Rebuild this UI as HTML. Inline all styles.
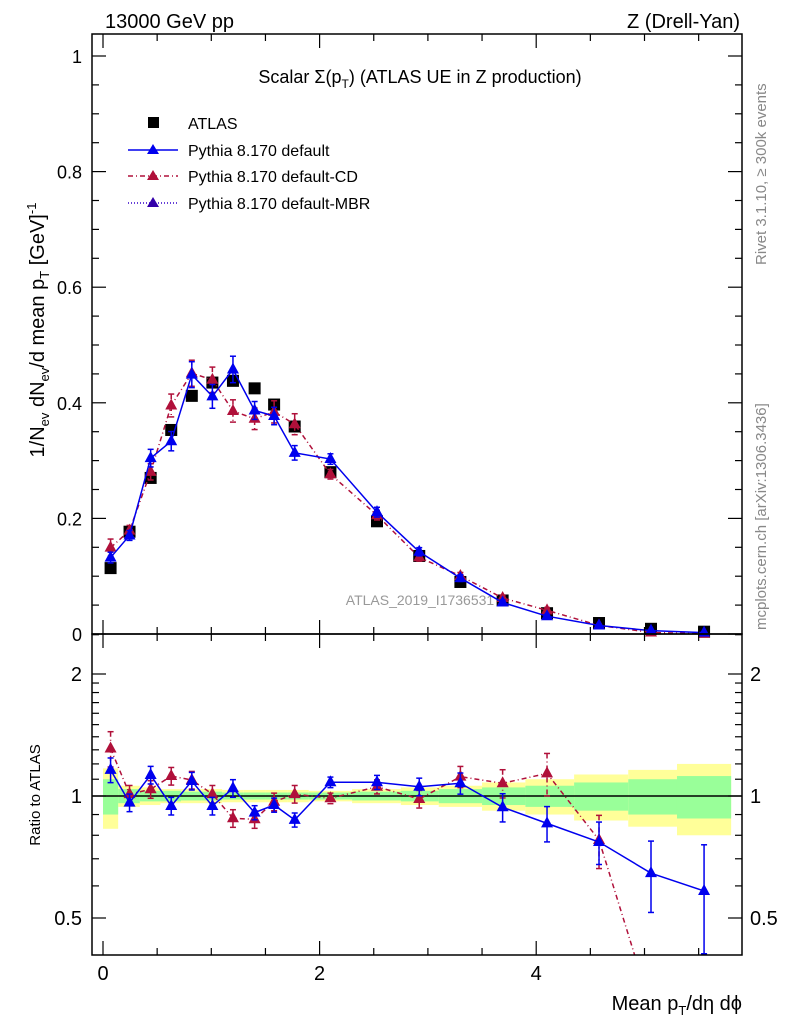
<!DOCTYPE html>
<html><head><meta charset="utf-8"><style>
html,body{margin:0;background:#fff;overflow:hidden;width:786px;height:1024px;}
svg{display:block;font-family:"Liberation Sans",sans-serif;}
</style></head><body>
<svg id="c" width="786" height="1024" viewBox="0 0 786 1024">
<text x="105" y="28" font-size="20">13000 GeV pp</text>
<text x="740" y="28" font-size="20" text-anchor="end">Z (Drell-Yan)</text>
<text x="420" y="83" font-size="18" text-anchor="middle">Scalar Σ(p<tspan font-size="12" dy="5">T</tspan><tspan dy="-5">) (ATLAS UE in Z production)</tspan></text>
<text x="420" y="605" font-size="14" fill="#999" text-anchor="middle">ATLAS_2019_I1736531</text>
<g id="bands"></g>
<g id="marks"></g>
<g id="axes"></g>
<rect x="92" y="34" width="650" height="600" fill="none" stroke="#000" stroke-width="1.5"/>
<rect x="92" y="634" width="650" height="321" fill="none" stroke="#000" stroke-width="1.5"/>
<g>
<rect x="148" y="117" width="11" height="11" fill="#000"/>
<text x="188" y="129" font-size="16">ATLAS</text>
<line x1="128" y1="150" x2="178" y2="150" stroke="#0000ee" stroke-width="1.5"/>
<polygon points="153,144 147,154 159,154" fill="#0000ee"/>
<text x="188" y="156" font-size="16">Pythia 8.170 default</text>
<line x1="128" y1="176" x2="178" y2="176" stroke="#b0103a" stroke-width="1.5" stroke-dasharray="5,3,1,3"/>
<polygon points="153,170 147,180 159,180" fill="#b0103a"/>
<text x="188" y="182" font-size="16">Pythia 8.170 default-CD</text>
<line x1="128" y1="203" x2="178" y2="203" stroke="#3300cc" stroke-width="1.5" stroke-dasharray="1,2"/>
<polygon points="153,197 147,207 159,207" fill="#3300aa"/>
<text x="188" y="209" font-size="16">Pythia 8.170 default-MBR</text>
</g>
<text transform="translate(44,330) rotate(-90)" font-size="20" text-anchor="middle">1/N<tspan font-size="13" dy="5">ev</tspan><tspan dy="-5"> dN</tspan><tspan font-size="13" dy="5">ev</tspan><tspan dy="-5">/d mean p</tspan><tspan font-size="13" dy="5">T</tspan><tspan dy="-5"> [GeV]</tspan><tspan font-size="13" dy="-8">-1</tspan></text>
<text transform="translate(40,795) rotate(-90)" font-size="15" text-anchor="middle">Ratio to ATLAS</text>
<text x="742" y="1010" font-size="20" text-anchor="end">Mean p<tspan font-size="13" dy="5">T</tspan><tspan dy="-5">/dη dϕ</tspan></text>
<text transform="translate(766,265) rotate(-90)" font-size="15" fill="#888">Rivet 3.1.10, ≥ 300k events</text>
<text transform="translate(766,630) rotate(-90)" font-size="15" fill="#888">mcplots.cern.ch [arXiv:1306.3436]</text>
</svg>
<script>
const xs=[0.07,0.245,0.44,0.63,0.82,1.01,1.2,1.4,1.58,1.77,2.1,2.53,2.92,3.3,3.69,4.1,4.58,5.06,5.55];
const atlas=[0.114,0.177,0.27,0.353,0.412,0.435,0.438,0.425,0.397,0.359,0.28,0.195,0.135,0.09,0.058,0.036,0.019,0.009,0.004];
const ratioDefault=[1.16,0.963,1.127,0.945,1.089,0.945,1.045,0.91,0.95,0.873,1.081,1.081,1.054,1.075,0.938,0.856,0.77,0.645,0.583];
const ratioCD=[1.31,1.011,1.039,1.12,1.095,1.011,0.881,0.876,0.968,1.011,0.987,1.054,0.983,1.116,1.075,1.137,0.779,0.3,0.1];
const errDefault=[0.07,0.05,0.05,0.05,0.05,0.05,0.05,0.04,0.04,0.04,0.03,0.04,0.05,0.06,0.08,0.1,0.12,0.2,0.3];
const errCD=[0.1,0.05,0.05,0.05,0.05,0.05,0.05,0.05,0.05,0.05,0.03,0.04,0.05,0.06,0.08,0.12,0.15,0.3,0.4];
const binEdges=[0,0.14,0.34,0.53,0.72,0.91,1.1,1.3,1.5,1.7,1.9,2.3,2.75,3.1,3.5,3.9,4.35,4.85,5.3,5.8];
const bandTotal=[0.17,0.06,0.05,0.04,0.04,0.04,0.035,0.035,0.035,0.035,0.03,0.04,0.05,0.06,0.08,0.1,0.13,0.16,0.2];
const bandStat=[0.1,0.04,0.03,0.03,0.025,0.025,0.02,0.02,0.02,0.02,0.02,0.025,0.03,0.04,0.05,0.06,0.08,0.1,0.12];
const mainTicks=[0,0.2,0.4,0.6,0.8,1];
const mainTickLabels=["0","0.2","0.4","0.6","0.8","1"];
const xTicks=[0,2,4];
const ratioTicks=[0.5,1,2];

const NS="http://www.w3.org/2000/svg";
const X=v=>103+108.3*v;
const Y=v=>634-578*v;
const R=r=>796-122*Math.log2(r);
function mk(tag,attrs,parent){const e=document.createElementNS(NS,tag);for(const k in attrs)e.setAttribute(k,attrs[k]);parent.appendChild(e);return e;}
const bands=document.getElementById('bands'),marks=document.getElementById('marks'),axes=document.getElementById('axes');
const defs=mk('defs',{},document.getElementById('c'));
const cp=mk('clipPath',{id:'rc'},defs);mk('rect',{x:92,y:634,width:650,height:321},cp);
const rg=mk('g',{'clip-path':'url(#rc)'},marks);
[[bandTotal,'#ffff99'],[bandStat,'#99ff99']].forEach(([b,col])=>{
 for(let i=0;i<b.length;i++){
  const r=mk('rect',{x:X(binEdges[i]),y:R(1+b[i]),width:X(binEdges[i+1])-X(binEdges[i]),height:R(1-b[i])-R(1+b[i]),fill:col},bands);
  
  
 }});
const one=mk('line',{x1:92,x2:742,y1:R(1),y2:R(1),stroke:'#000','stroke-width':1.5},bands);


atlas.forEach((v,i)=>{
 const s=mk('rect',{x:X(xs[i])-6,y:Y(v)-6,width:12,height:12,fill:'#000'},marks);
 
 
});
function series(ratio,err,col,dash,name){
 const gm=mk('g',{},marks),gr=mk('g',{},rg);
 
 
 
 
 const pm=ratio.map((r,i)=>X(xs[i])+','+Y(atlas[i]*r)).join(' ');
 const pr=ratio.map((r,i)=>X(xs[i])+','+R(r)).join(' ');
 mk('polyline',{points:pm,fill:'none',stroke:col,'stroke-width':1.5,'stroke-dasharray':dash},gm);
 mk('polyline',{points:pr,fill:'none',stroke:col,'stroke-width':1.5,'stroke-dasharray':dash},gr);
 ratio.forEach((r,i)=>{
  const x=X(xs[i]),v=atlas[i]*r,e=err[i];
  [[gm,Y(v*(1+e)),Y(v*(1-e)),Y(v)],[gr,R(r*(1+e)),R(Math.max(r*(1-e),0.01)),R(r)]].forEach(([g,y1,y2,y])=>{
   mk('line',{x1:x,x2:x,y1:y1,y2:y2,stroke:col,'stroke-width':1.5,'stroke-dasharray':dash},g);
   mk('line',{x1:x-3,x2:x+3,y1:y1,y2:y1,stroke:col,'stroke-width':1.5},g);
   mk('line',{x1:x-3,x2:x+3,y1:y2,y2:y2,stroke:col,'stroke-width':1.5},g);
   const t=mk('polygon',{points:`${x},${y-7} ${x-6},${y+4} ${x+6},${y+4}`,fill:col},g);
   
   
  });
 });
}
series(ratioCD,errCD,'#b0103a','5,3,1,3','pythia-default-cd');
series(ratioDefault,errDefault,'#0000ee','','pythia-default');
const ln=(a)=>mk('line',Object.assign({stroke:'#000','stroke-width':1.2},a),axes);
for(let v=0;v<=1.0001;v+=0.05){const y=Y(v),L=Math.abs(v*5-Math.round(v*5))<1e-6?14:7;ln({x1:92,x2:92+L,y1:y,y2:y});ln({x1:742,x2:742-L,y1:y,y2:y});}
mainTicks.forEach((v,i)=>{const t=mk('text',{x:82,y:Y(v)+7,'font-size':18,'text-anchor':'end'},axes);t.textContent=mainTickLabels[i];
 
 });
for(let v=0;v<=5.8;v+=0.5){const x=X(v),L=(Math.round(v*2)%4===0)?14:7;
 ln({x1:x,x2:x,y1:34,y2:34+L});ln({x1:x,x2:x,y1:634,y2:634-L});ln({x1:x,x2:x,y1:634,y2:634+L});ln({x1:x,x2:x,y1:955,y2:955-L});}
xTicks.forEach(v=>{const t=mk('text',{x:X(v),y:980,'font-size':20,'text-anchor':'middle'},axes);t.textContent=v;
 
 });
[0.5,0.6,0.7,0.8,0.9,1,1.1,1.2,1.3,1.4,1.5,1.6,1.7,1.8,1.9,2,2.5].forEach(r=>{const y=R(r),L=ratioTicks.includes(r)?14:7;ln({x1:92,x2:92+L,y1:y,y2:y});ln({x1:742,x2:742-L,y1:y,y2:y});});
ratioTicks.forEach(r=>{[[82,'end'],[750,'start']].forEach(([x,a])=>{const t=mk('text',{x:x,y:R(r)+7,'font-size':20,'text-anchor':a},axes);t.textContent=r;
 
 });});
</script>
</body></html>
